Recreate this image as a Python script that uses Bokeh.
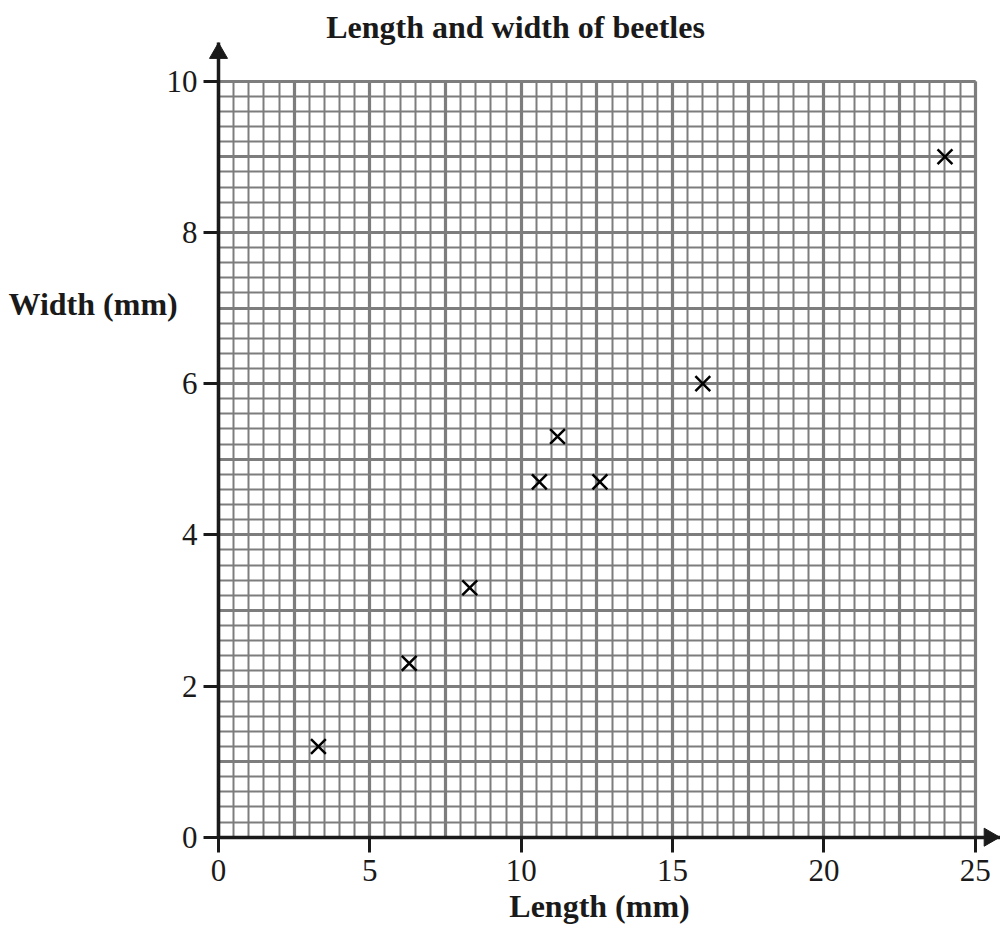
import math
from bokeh.plotting import figure
from bokeh.models import (SingleIntervalTicker, Label, Range1d, Grid, BoxAnnotation)
from bokeh.embed import file_html
from bokeh.resources import INLINE

# Data
length_mm = [3.3, 6.3, 8.3, 10.6, 11.2, 12.6, 16.0, 24.0]
width_mm = [1.2, 2.3, 3.3, 4.7, 5.3, 4.7, 6.0, 9.0]

title_text = "Length and width of beetles"
x_label = "Length (mm)"
y_label = "Width (mm)"

X_MAX, Y_MAX = 25, 10          # extent of graph paper
X_END, Y_END = 25.83, 10.516   # arrow tips (axis overshoot)

SERIF = "Liberation Serif"
GRID = "#7d7d7d"
INK = "#1a1a1a"

PX_X, PX_Y = 30.27, 75.6       # pixels per data unit
X0_PX, Y0_PX = 218.0, 836.7    # where the origin sits on the canvas
W, H = 1000, 938

p = figure(frame_width=W, frame_height=H,
           min_border_left=0, min_border_right=0,
           min_border_top=0, min_border_bottom=0,
           x_range=Range1d(-X0_PX / PX_X, (W - X0_PX) / PX_X),
           y_range=Range1d((Y0_PX - H) / PX_Y, Y0_PX / PX_Y),
           output_backend="svg", toolbar_location=None,
           background_fill_color="white", border_fill_color="white")
p.outline_line_color = None
p.title.visible = False

# Grid (graph paper)
p.xgrid.ticker = SingleIntervalTicker(interval=2.5, num_minor_ticks=5)
p.ygrid.ticker = SingleIntervalTicker(interval=1, num_minor_ticks=5)
for g in (p.xgrid, p.ygrid):
    g.grid_line_color = GRID
    g.grid_line_width = 3.2
    g.grid_line_alpha = 1.0
    g.minor_grid_line_color = GRID
    g.minor_grid_line_width = 2
    g.level = "underlay"
p.xgrid.bounds = (0, X_MAX)
p.ygrid.bounds = (0, Y_MAX)
if "cross_bounds" in Grid.properties():
    p.xgrid.cross_bounds = (0, Y_MAX)
    p.ygrid.cross_bounds = (0, X_MAX)
else:
    for kw in (dict(bottom=Y_MAX + 0.025), dict(left=X_MAX + 0.06),
               dict(top=-0.025), dict(right=-0.06)):
        p.add_layout(BoxAnnotation(fill_color="white", fill_alpha=1,
                                   line_alpha=0, level="underlay", **kw))

# Axes, pinned at the origin
p.xaxis.ticker = SingleIntervalTicker(interval=5, num_minor_ticks=0)
p.yaxis.ticker = SingleIntervalTicker(interval=2, num_minor_ticks=0)
p.xaxis.fixed_location = 0
p.yaxis.fixed_location = 0
p.xaxis.bounds = (0, X_END)
p.yaxis.bounds = (0, Y_END)
for ax in (p.xaxis, p.yaxis):
    ax.axis_line_color = INK
    ax.axis_line_width = 3.5
    ax.major_tick_line_color = INK
    ax.major_tick_line_width = 3
    ax.major_tick_out = 15
    ax.major_tick_in = 0
    ax.minor_tick_line_color = None
    ax.major_label_text_font = SERIF
    ax.major_label_text_font_size = "31px"
    ax.major_label_text_color = INK
p.xaxis.major_label_standoff = 8
p.yaxis.major_label_standoff = 6

# Arrow heads at the axis ends
p.scatter([0], [Y_END - 11 / PX_Y], marker="triangle", size=18,
          fill_color=INK, line_color=INK, line_width=1)
p.scatter([X_END - 11 / PX_X], [0], marker="triangle", size=18, angle=-math.pi / 2,
          fill_color=INK, line_color=INK, line_width=1)

# Texts
p.add_layout(Label(x=(515 - X0_PX) / PX_X, y=(Y0_PX - 26) / PX_Y, text=title_text,
                   text_font=SERIF, text_font_style="bold", text_font_size="32px",
                   text_color=INK, text_align="center", text_baseline="middle"))
p.add_layout(Label(x=(8 - X0_PX) / PX_X, y=(Y0_PX - 303) / PX_Y, text=y_label,
                   text_font=SERIF, text_font_style="bold", text_font_size="32px",
                   text_color=INK, text_align="left", text_baseline="middle"))
p.add_layout(Label(x=(599 - X0_PX) / PX_X, y=(Y0_PX - 905) / PX_Y, text=x_label,
                   text_font=SERIF, text_font_style="bold", text_font_size="32px",
                   text_color=INK, text_align="center", text_baseline="middle"))

# Data points
p.scatter(length_mm, width_mm, marker="x", size=21, line_width=2.5, color="black")

open("out.html", "w").write(file_html(p, INLINE))
